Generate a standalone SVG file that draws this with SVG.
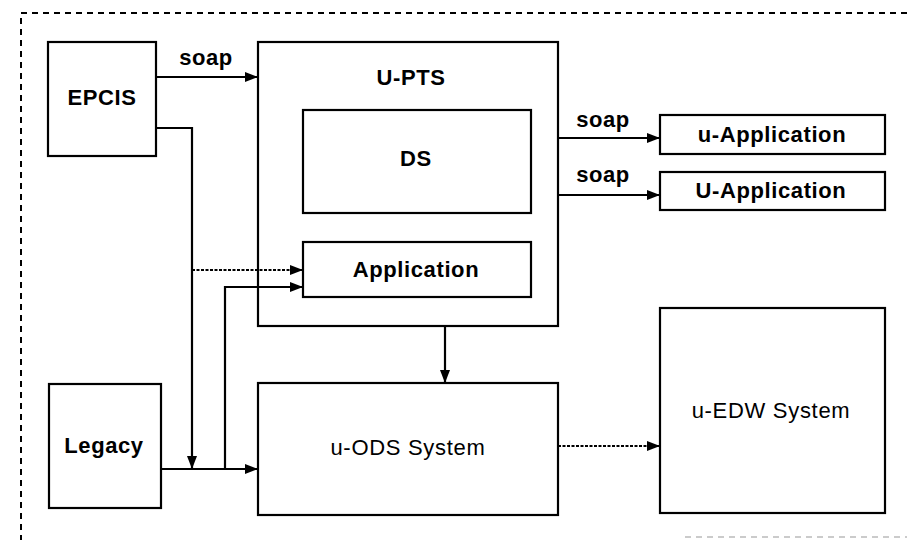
<svg xmlns="http://www.w3.org/2000/svg" width="907" height="540" viewBox="0 0 907 540">
<defs>
<style>
.box{fill:#fff;stroke:#000;stroke-width:2.2}
.frame{fill:none;stroke:#000;stroke-width:2;stroke-dasharray:6 5}
.faint{fill:none;stroke:#bbb;stroke-width:1.5;stroke-dasharray:6 5}
.con{fill:none;stroke:#000;stroke-width:2.2}
.dot{stroke-dasharray:3 1.5}
.b{font-family:"Liberation Sans",Arial,sans-serif;font-size:22px;font-weight:bold;text-anchor:middle;fill:#000;letter-spacing:0.6px}
.n{font-family:"Liberation Sans",Arial,sans-serif;font-size:22px;text-anchor:middle;fill:#000;letter-spacing:0.7px}
</style>
<marker id="ah" viewBox="0 0 13 10" refX="13" refY="5" markerWidth="13" markerHeight="10" markerUnits="userSpaceOnUse" orient="auto">
<path d="M0,0 L13,5 L0,10 z" fill="#000"/>
</marker>
</defs>
<rect width="907" height="540" fill="#fff"/>
<path class="frame" d="M907 13 H21 V540"/>
<path class="faint" d="M685 537 H907"/>

<g id="u-pts">
<rect class="box" x="258" y="42" width="300" height="284"/>
<text class="b" x="411" y="85">U-PTS</text>
</g>
<g id="ds">
<rect class="box" x="303" y="110" width="228" height="103"/>
<text class="b" x="416" y="166">DS</text>
</g>
<g id="application">
<rect class="box" x="303" y="242" width="228" height="55"/>
<text class="b" x="416" y="277">Application</text>
</g>
<g id="epcis">
<rect class="box" x="48" y="42" width="108" height="114"/>
<text class="b" x="102" y="105">EPCIS</text>
</g>
<g id="legacy">
<rect class="box" x="49" y="384" width="112" height="124"/>
<text class="b" x="104" y="453">Legacy</text>
</g>
<g id="u-ods">
<rect class="box" x="258" y="383" width="300" height="132"/>
<text class="n" x="408" y="455">u-ODS System</text>
</g>
<g id="u-edw">
<rect class="box" x="660" y="308" width="225" height="205"/>
<text class="n" x="771" y="418">u-EDW System</text>
</g>
<g id="u-application-1">
<rect class="box" x="660" y="115" width="225" height="39"/>
<text class="b" x="772" y="142">u-Application</text>
</g>
<g id="u-application-2">
<rect class="box" x="660" y="172" width="225" height="38"/>
<text class="b" x="771" y="198">U-Application</text>
</g>

<g id="connectors">
<path class="con" d="M156 77 H258" marker-end="url(#ah)"/>
<text class="b" x="206" y="65">soap</text>
<path class="con" d="M156 128 H192 V469" marker-end="url(#ah)"/>
<path class="con dot" d="M192 270 H303" marker-end="url(#ah)"/>
<path class="con" d="M225 469 V287 H303" marker-end="url(#ah)"/>
<path class="con" d="M161 469 H258" marker-end="url(#ah)"/>
<path class="con" d="M558 138 H660" marker-end="url(#ah)"/>
<text class="b" x="603" y="127">soap</text>
<path class="con" d="M558 195 H660" marker-end="url(#ah)"/>
<text class="b" x="603" y="182">soap</text>
<path class="con" d="M445 326 V383" marker-end="url(#ah)"/>
<path class="con dot" d="M558 446 H660" marker-end="url(#ah)"/>
</g>
</svg>
